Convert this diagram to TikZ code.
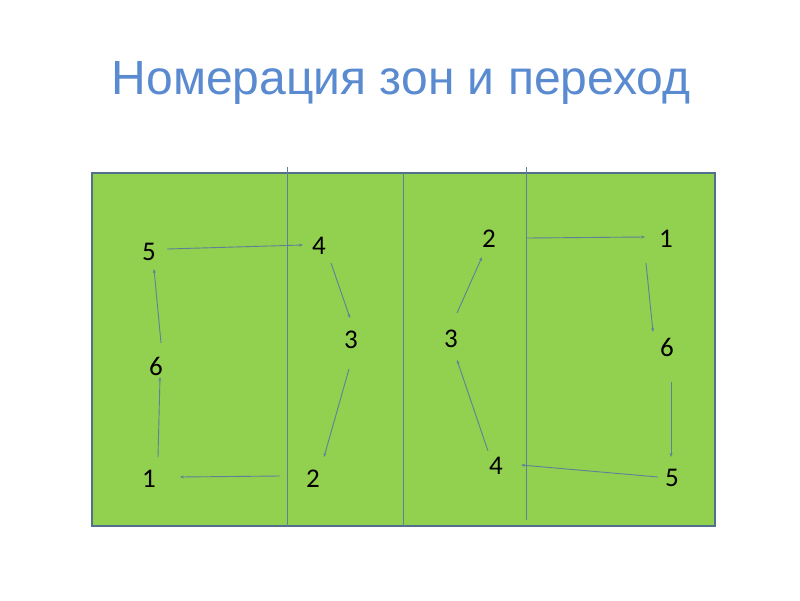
\documentclass[tikz,border=0pt]{standalone}
\usepackage{fontspec}
\setmainfont{Liberation Sans}
\newfontfamily\numfont{Carlito}
\usetikzlibrary{arrows.meta}
\definecolor{courtgreen}{HTML}{92D050}
\definecolor{courtline}{HTML}{52708E}
\definecolor{netline}{HTML}{5F8098}
\definecolor{titleblue}{HTML}{5A8AD0}
\tikzstyle{zone}=[inner sep=0pt,font=\numfont\fontsize{27}{27}\selectfont]
\tikzstyle{move}=[draw=netline,line width=0.9pt,-{Stealth[length=4pt,width=3pt]}]

\begin{document}
\begin{tikzpicture}[x=1pt,y=-1pt]
    \useasboundingbox (0,0) rectangle (800,600);
    \node[anchor=base,text=titleblue,font=\fontsize{48}{48}\selectfont] (title) at (401,94) {Номерация зон и переход};
    \draw[fill=courtgreen,draw=courtline,line width=2pt] (92,173) rectangle (715,526);
    \draw[netline,line width=1pt] (287,167) -- (287,526);
    \draw[netline,line width=1pt] (403,173) -- (403,526);
    \draw[netline,line width=1pt] (526,167) -- (526,520);
    % left side
    \node[zone] (l5) at (149,252) {5};
    \node[zone] (l4) at (319,246) {4};
    \node[zone] (l3) at (351,340) {3};
    \node[zone] (l6) at (156,366) {6};
    \node[zone] (l1) at (149,479) {1};
    \node[zone] (l2) at (313,479) {2};
    % right side
    \node[zone] (r2) at (489,239) {2};
    \node[zone] (r1) at (666,239) {1};
    \node[zone] (r3) at (451,339) {3};
    \node[zone] (r6) at (667,347) {6};
    \node[zone] (r4) at (496,466) {4};
    \node[zone] (r5) at (672,478) {5};
    % moves
    \draw[move] ([shift={(18,-3)}]l5.center) -- ([shift={(-16,-1)}]l4.center);
    \draw[move] ([shift={(12,17)}]l4.center) -- ([shift={(-1,-22)}]l3.center);
    \draw[move] ([shift={(-2,29)}]l3.center) -- ([shift={(11,-22)}]l2.center);
    \draw[move] ([shift={(-33,-3)}]l2.center) -- ([shift={(31,-2)}]l1.center);
    \draw[move] ([shift={(9,-22)}]l1.center) -- ([shift={(4,11)}]l6.center);
    \draw[move] ([shift={(5,-23)}]l6.center) -- ([shift={(5,17)}]l5.center);
    \draw[move] ([shift={(6,-26)}]r3.center) -- ([shift={(-7,18)}]r2.center);
    \draw[move] ([shift={(38,-1)}]r2.center) -- ([shift={(-21,-2)}]r1.center);
    \draw[move] ([shift={(-20,24)}]r1.center) -- ([shift={(-14,-15)}]r6.center);
    \draw[move] ([shift={(4,35)}]r6.center) -- ([shift={(-1,-21)}]r5.center);
    \draw[move] ([shift={(-14,-1)}]r5.center) -- ([shift={(25,-1)}]r4.center);
    \draw[move] ([shift={(-8,-15)}]r4.center) -- ([shift={(6,21)}]r3.center);
\end{tikzpicture}
\end{document}
